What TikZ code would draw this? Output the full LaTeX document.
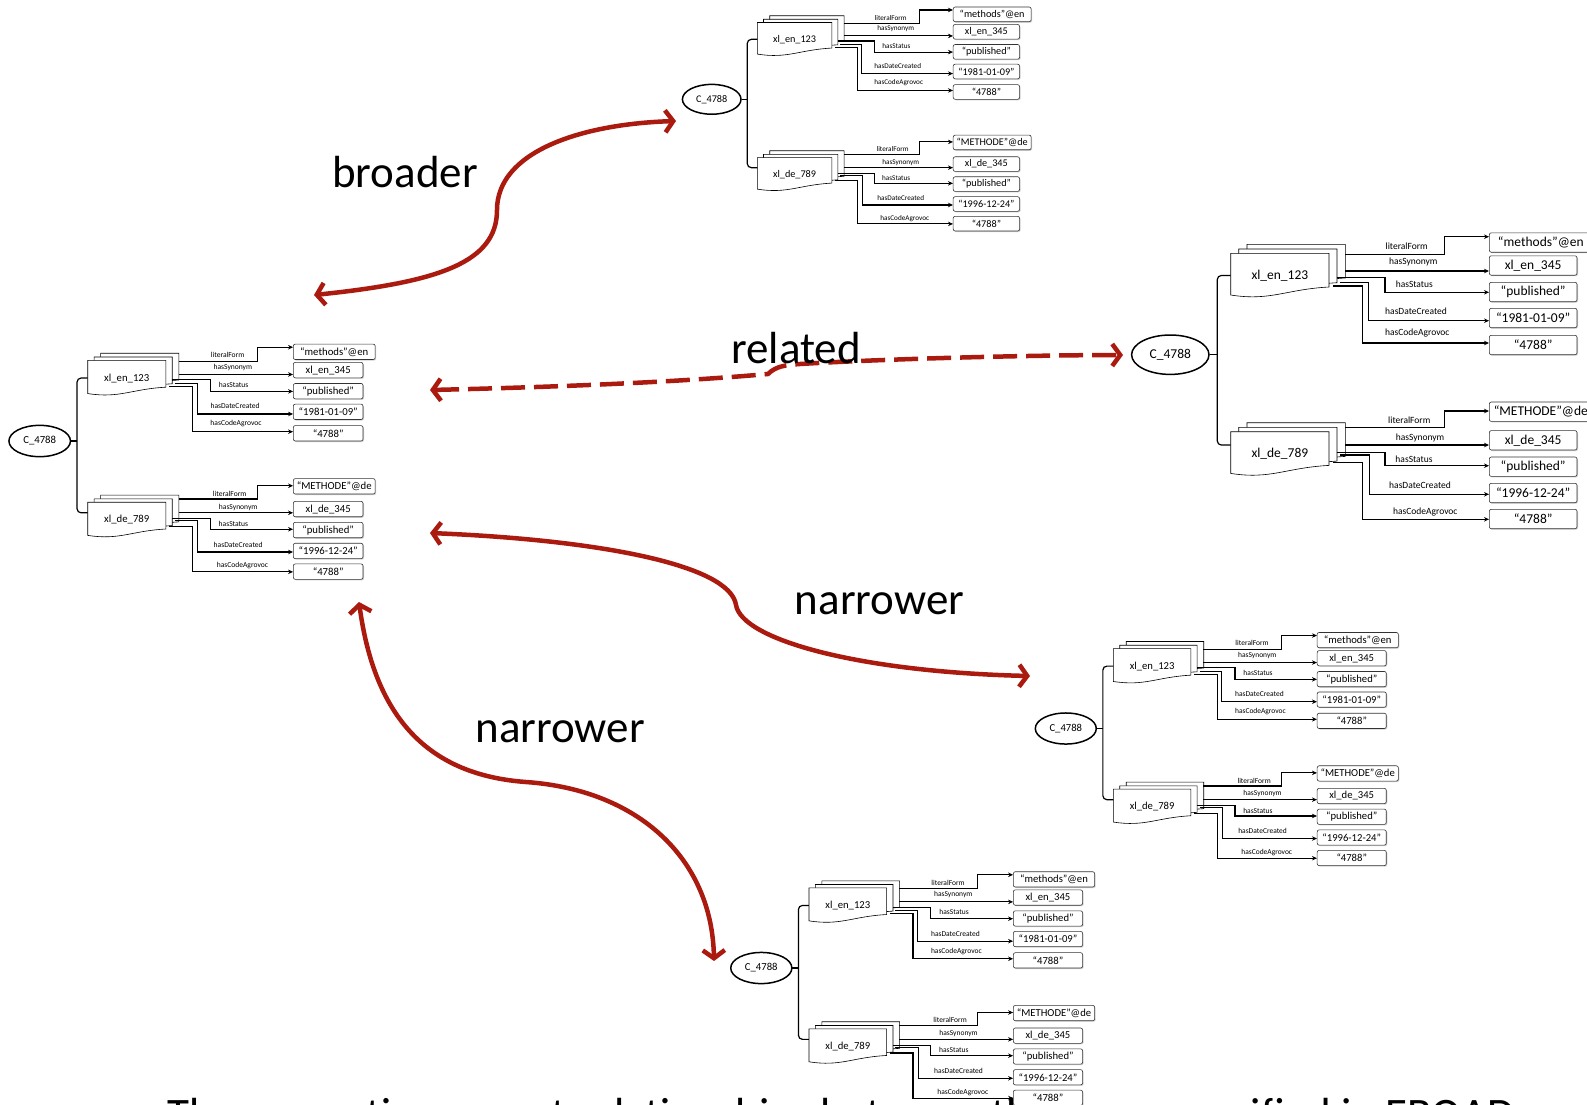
\documentclass[tikz,border=0pt]{standalone}
\usepackage{fontspec}
\setmainfont{Carlito}
\usetikzlibrary{shapes.geometric,arrows.meta,shadows}
\definecolor{relred}{HTML}{AA1A0E}
\newcommand\fs[1]{\fontsize{#1}{#1}\selectfont}
\tikzset{
  concept/.style={ellipse, draw, line width=1.5pt, minimum width=77.4pt, minimum height=39.4pt, inner sep=0pt, fill=white, font=\fs{13.5}},
  docnode/.style={minimum width=98.3pt, minimum height=44.4pt, inner sep=0pt, font=\fs{13.5}},
  sheet/.style={draw, line width=0.6pt, fill=white},
  valbox/.style={draw=black!80, line width=0.6pt, fill=white, rounded corners=2pt, minimum width=87.7pt, minimum height=19.4pt, inner sep=0pt, anchor=west, font=\fs{13.5}, drop shadow={shadow xshift=1pt, shadow yshift=-1pt, fill=black!30, opacity=0.6}},
  widebox/.style={valbox, minimum width=103pt},
  proplabel/.style={font=\fs{9.5}, inner sep=0pt},
  prop/.style={line width=1.1pt, -{Stealth[length=5pt,width=4.5pt]}},
  bracketline/.style={line width=1.2pt, rounded corners=4pt},
  relarrow/.style={relred, line width=4.5pt, {Straight Barb[length=8pt,width=22pt]}-{Straight Barb[length=8pt,width=22pt]}},
  biglabel/.style={font=\fs{45}, inner sep=0pt},
}
\newcommand\docsheet[2]{%
  \draw[sheet] (#1,#2) -- (#1+98.3,#2) -- (#1+98.3,#2+33.7) .. controls (#1+55,#2+36) and (#1+40,#2+48) .. (#1,#2+41.7) -- cycle;}
\newcommand\drawcluster[4]{%
\begin{scope}[shift={(#2,#3)}, scale=#4, transform shape, name prefix=#1-]
  \node[concept] (c) at (0,0) {C\_4788};
  \docsheet{76.7}{-110.4}\docsheet{68.4}{-105.7}\docsheet{60.4}{-101.4}
  \node[docnode] (en) at (109.55,-79.2) {xl\_en\_123};
  \docsheet{76.7}{68}\docsheet{68.4}{72.7}\docsheet{60.4}{77}
  \node[docnode] (de) at (109.55,99.2) {xl\_de\_789};
  \draw[bracketline] (c.east) -- (47,0);
  \draw[bracketline] (en.west) -- (47,-79.2) -- (47,90.3) -- (de.west |- 47,90.3);
  % english values
  \node[widebox] (en1) at (318.7,-112.2) {“methods”@en};
  \node[valbox] (en2) at (318.7,-89.2) {xl\_en\_345};
  \node[valbox] (en3) at (318.7,-62.7) {“published”};
  \node[valbox] (en4) at (318.7,-36.7) {“1981-01-09”};
  \node[valbox] (en5) at (318.7,-9.7) {“4788”};
  \draw[prop] (174.7,-100.4) -- (274,-100.4) -- (274,-118) -- (en1.west |- 274,-118);
  \draw[prop] (174.7,-83.7) -- (en2.west |- 274,-83.7);
  \draw[prop] (166.4,-77) -- (214.7,-77) -- (214.7,-62.4) -- (en3.west |- 274,-62.4);
  \draw[prop] (169.7,-72.4) -- (198,-72.4) -- (198,-34) -- (en4.west |- 274,-34);
  \draw[prop] (163,-68.7) -- (192,-68.7) -- (192,-11.7) -- (en5.west |- 274,-11.7);
  \node[proplabel] (enl1) at (236.4,-108) {literalForm};
  \node[proplabel] (enl2) at (243,-93) {hasSynonym};
  \node[proplabel] (enl3) at (244,-70.4) {hasStatus};
  \node[proplabel] (enl4) at (245.7,-43.7) {hasDateCreated};
  \node[proplabel] (enl5) at (247,-21.4) {hasCodeAgrovoc};
  % german values
  \node[widebox] (de1) at (318.7,57) {“METHODE”@de};
  \node[valbox] (de2) at (318.7,85.6) {xl\_de\_345};
  \node[valbox] (de3) at (318.7,112) {“published”};
  \node[valbox] (de4) at (318.7,138.3) {“1996-12-24”};
  \node[valbox] (de5) at (318.7,164.3) {“4788”};
  \draw[prop] (174.7,73) -- (274,73) -- (274,56.3) -- (de1.west |- 274,56.3);
  \draw[prop] (174.7,90.3) -- (de2.west |- 274,90.3);
  \draw[prop] (166.4,98) -- (214.7,98) -- (214.7,111) -- (de3.west |- 274,111);
  \draw[prop] (169.7,100.3) -- (199,100.3) -- (199,139.6) -- (de4.west |- 274,139.6);
  \draw[prop] (163,107.6) -- (192,107.6) -- (192,164.6) -- (de5.west |- 274,164.6);
  \node[proplabel] (del1) at (239,66) {literalForm};
  \node[proplabel] (del2) at (249.7,83) {hasSynonym};
  \node[proplabel] (del3) at (243.7,104.3) {hasStatus};
  \node[proplabel] (del4) at (249.7,130.3) {hasDateCreated};
  \node[proplabel] (del5) at (255,157) {hasCodeAgrovoc};
\end{scope}}
\begin{document}
\begin{tikzpicture}[x=1pt,y=-1pt]
  \useasboundingbox (0,0) rectangle (1587,1104);
  \fill[white] (0,0) rectangle (1587,1104);
  % caption (cut off by the lower edge)
  \node[biglabel, anchor=base west] (caption) at (167,1129) {The semantic concept relationships between them are specified in EBOAD};
  % clusters
  \drawcluster{T}{711.7}{99.3}{0.757}
  \drawcluster{L}{39.7}{441}{0.795}
  \drawcluster{R}{1170.3}{354.7}{1}
  \drawcluster{M}{1065.8}{728.5}{0.788}
  \drawcluster{B}{761.3}{968}{0.79}
  % relation arrows
  \coordinate (brA) at (314,295);
  \coordinate (brB) at (676,121);
  \coordinate (rlA) at (430,390);
  \coordinate (rlB) at (1123,355);
  \coordinate (n1A) at (430,533);
  \coordinate (n1B) at (1030,676);
  \coordinate (n2A) at (359,602);
  \coordinate (n2B) at (714,961);
  \draw[relarrow] (brA) .. controls (440,282) and (497,262) .. (497,210) .. controls (497,152) and (580,124) .. (brB);
  \draw[relarrow, dash pattern=on 24pt off 9pt] (rlA) .. controls (600,386) and (700,380) .. (768,374) .. controls (776,366) and (786,365) .. (800,364) .. controls (900,358) and (1050,355) .. (rlB);
  \draw[relarrow] (n1A) .. controls (600,540) and (730,565) .. (736,605) .. controls (742,640) and (860,672) .. (n1B);
  \draw[relarrow] (n2A) .. controls (375,720) and (430,775) .. (526,782) .. controls (640,790) and (712,860) .. (n2B);
  % labels
  \node[biglabel] (lbroader) at (405,172) {broader};
  \node[biglabel] (lrelated) at (796,348) {related};
  \node[biglabel] (lnarrow1) at (879.5,604) {narrower};
  \node[biglabel] (lnarrow2) at (560,732) {narrower};
\end{tikzpicture}
\end{document}
